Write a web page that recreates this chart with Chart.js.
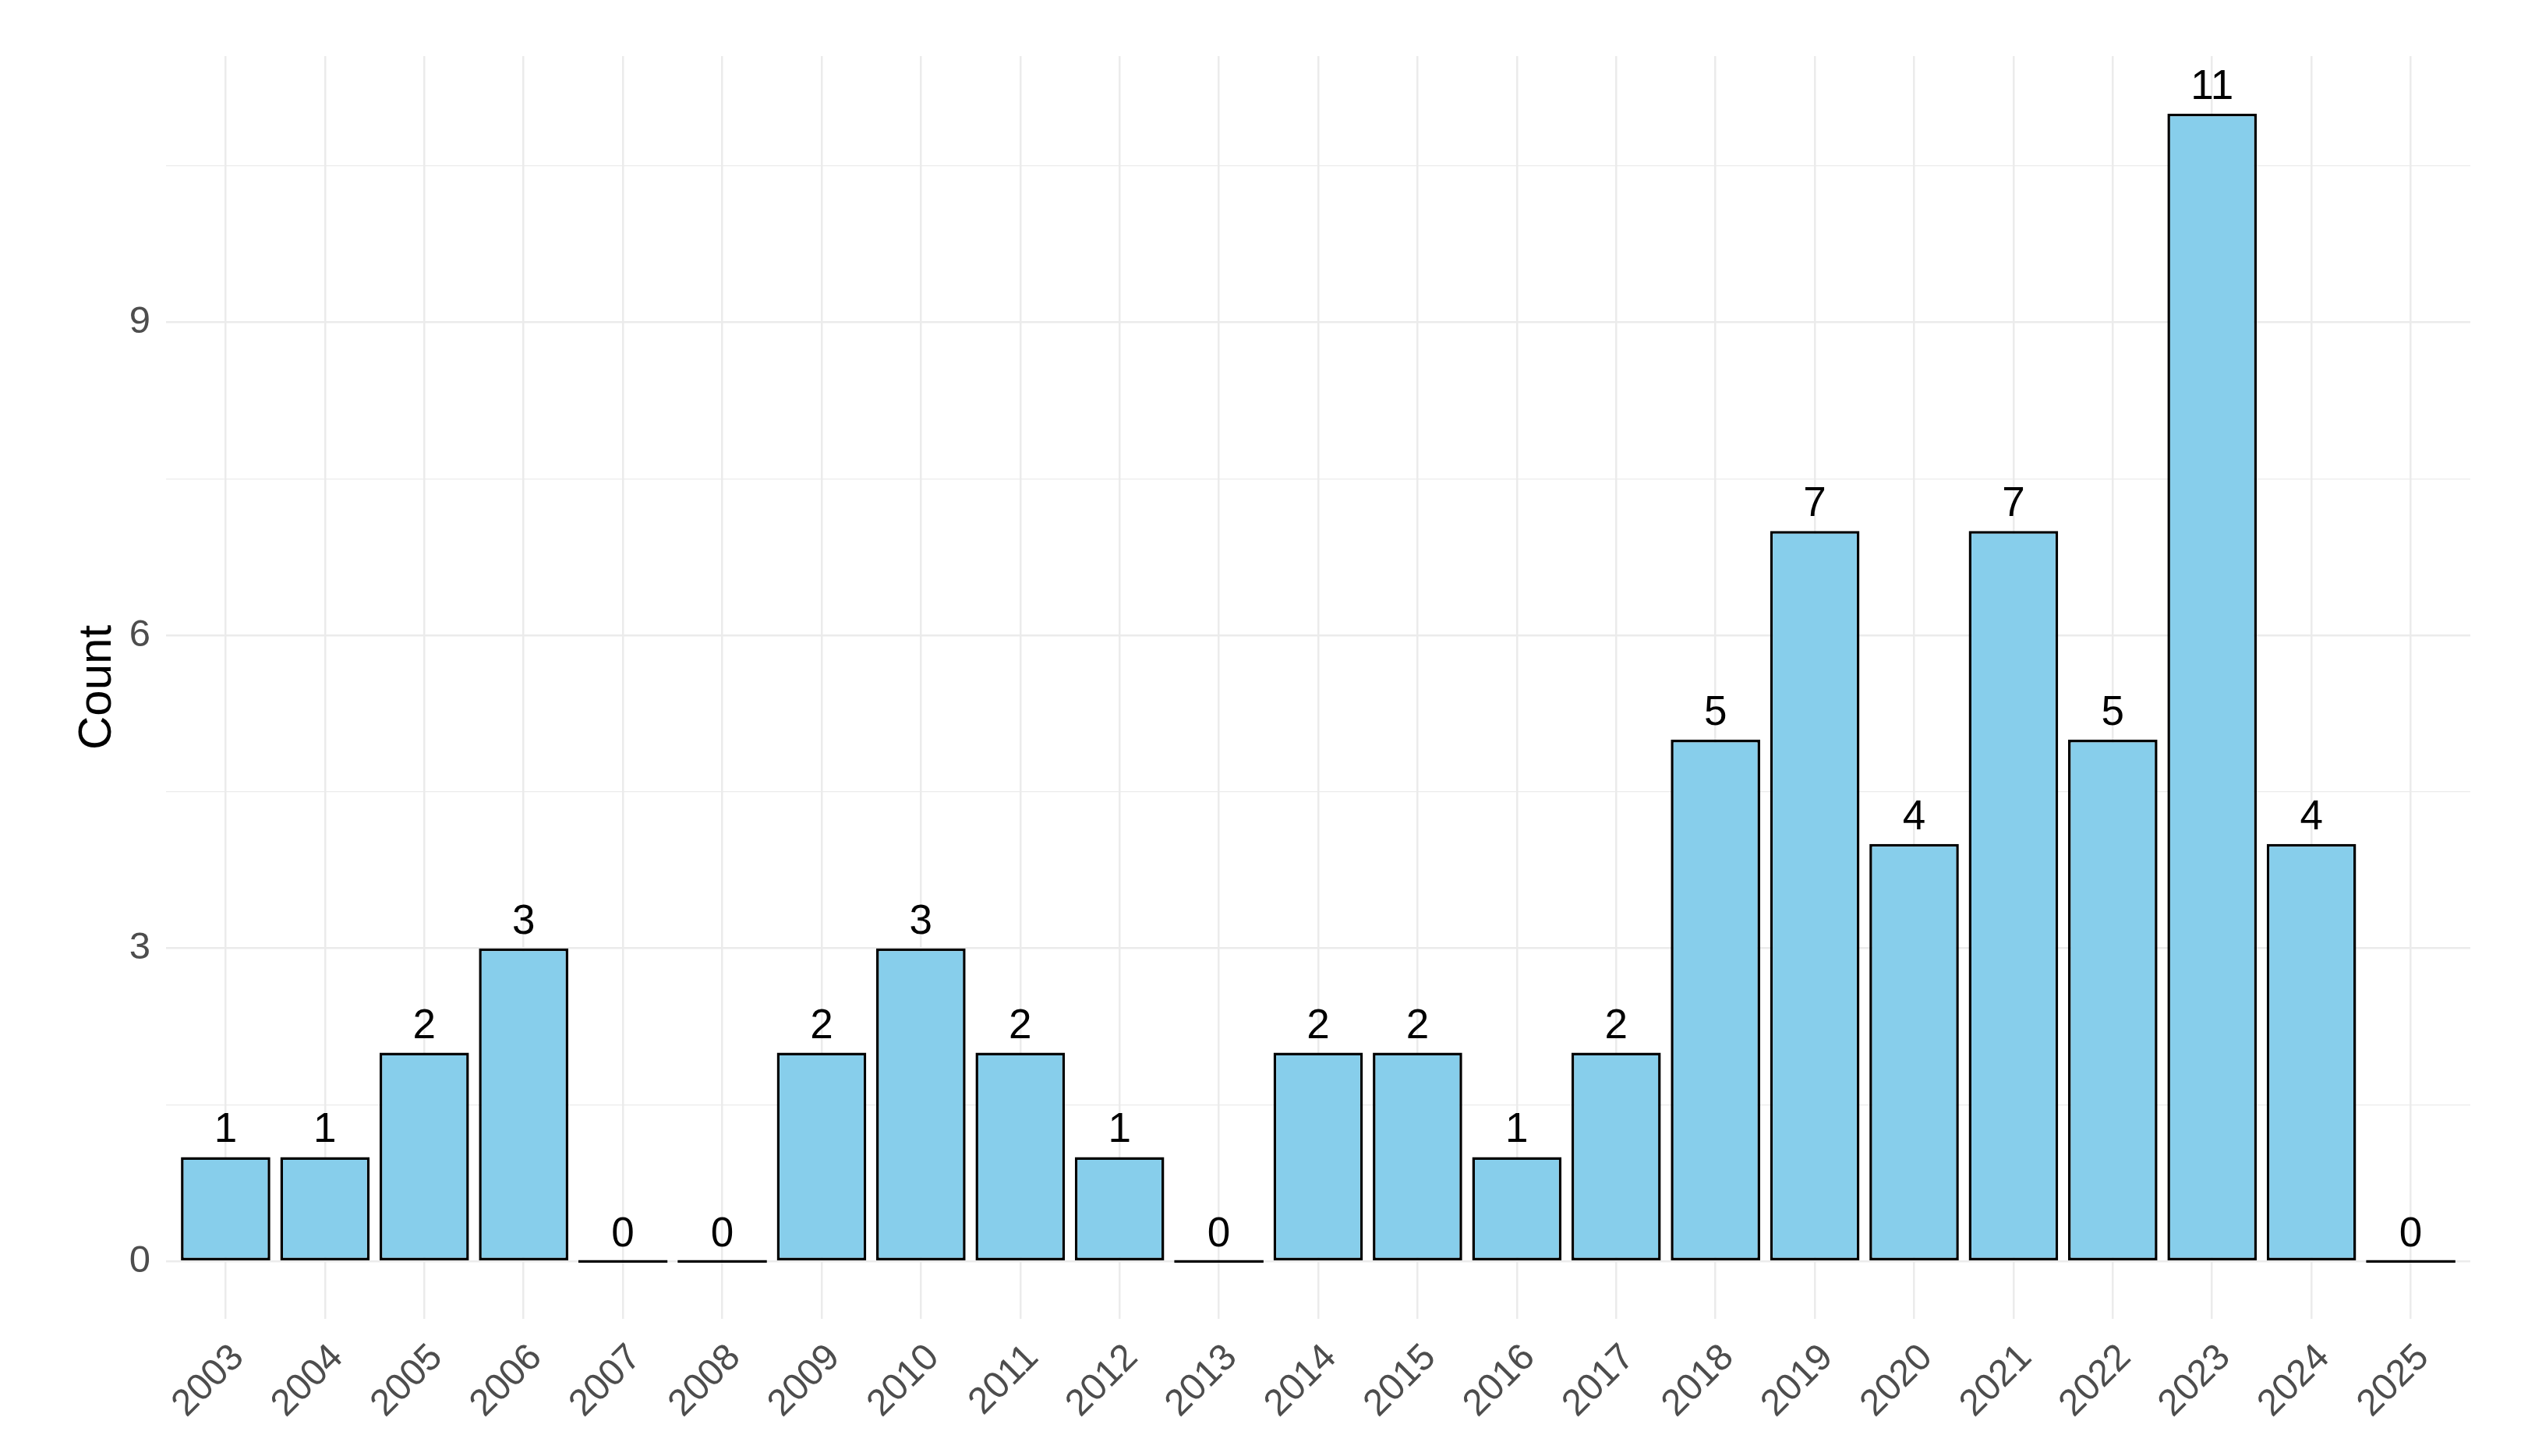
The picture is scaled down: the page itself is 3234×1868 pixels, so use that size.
<!DOCTYPE html>
<html>
<head>
<meta charset="utf-8">
<title>Count by year</title>
<script src="https://cdn.jsdelivr.net/npm/chart.js@4/dist/chart.umd.min.js"></script>
<style>
    body { margin: 0; background: #fff; }
</style>
</head>
<body>
<canvas id="bar-chart" width="3234" height="1868"></canvas>
<script>
let years = [2003, 2004, 2005, 2006, 2007, 2008, 2009, 2010, 2011, 2012, 2013, 2014,
    2015, 2016, 2017, 2018, 2019, 2020, 2021, 2022, 2023, 2024, 2025]
let counts = [1, 1, 2, 3, 0, 0, 2, 3, 2, 1, 0, 2, 2, 1, 2, 5, 7, 4, 7, 5, 11, 4, 0]
let yTicks = [0, 3, 6, 9]
let yMinorTicks = [1.5, 4.5, 7.5, 10.5]

let font = "'Liberation Sans', Arial, sans-serif"

// writes the count above every bar
const barLabels = {
    id: 'barLabels',
    afterDatasetsDraw(chart) {
        const ctx = chart.ctx
        const meta = chart.getDatasetMeta(0)
        ctx.save()
        ctx.font = "53px " + font
        ctx.fillStyle = "#000"
        ctx.textAlign = "center"
        ctx.textBaseline = "alphabetic"
        meta.data.forEach((bar, i) => {
            const zero = chart.scales.y.getPixelForValue(0)
            const top = Math.min(bar.y, zero)
            ctx.fillText(String(counts[i]), bar.x, top - 19)
        })
        ctx.restore()
    }
}

new Chart(document.getElementById("bar-chart"), {
    type: 'bar',
    data: {
        datasets: [{
            label: "Count",
            data: years.map((y, i) => ({ x: y, y: counts[i] })),
            backgroundColor: "#87CEEB",
            borderColor: "#000",
            borderWidth: 3.5,
            borderSkipped: false,
            minBarLength: 3.5,
            barPercentage: 0.9,
            categoryPercentage: 1
        }]
    },
    options: {
        responsive: false,
        devicePixelRatio: 1,
        animation: false,
        layout: { padding: { left: 0, top: 72, right: 65, bottom: 0 } },
        plugins: {
            legend: { display: false },
            tooltip: { enabled: false }
        },
        scales: {
            x: {
                type: 'linear',
                min: 2002.4,
                max: 2025.6,
                offset: false,
                afterBuildTicks: scale => { scale.ticks = years.map(v => ({ value: v })) },
                afterFit: scale => { scale.height = 176 },
                border: { display: false },
                grid: { color: "#EBEBEB", lineWidth: 2.5, drawTicks: false, offset: false },
                ticks: {
                    autoSkip: false,
                    minRotation: 45,
                    maxRotation: 45,
                    padding: 22,
                    labelOffset: 16,
                    color: "#4D4D4D",
                    font: { family: font, size: 48 },
                    callback: v => String(v)
                }
            },
            y: {
                min: -0.55,
                max: 11.55,
                afterBuildTicks: scale => {
                    scale.ticks = yTicks.concat(yMinorTicks).sort((a, b) => a - b).map(v => ({ value: v }))
                },
                afterFit: scale => { scale.width = 213 },
                border: { display: false },
                grid: {
                    color: "#EBEBEB",
                    drawTicks: false,
                    lineWidth: c => yTicks.includes(c.tick.value) ? 2.5 : 1.2
                },
                ticks: {
                    padding: 20,
                    color: "#4D4D4D",
                    font: { family: font, size: 49 },
                    callback: v => yTicks.includes(v) ? String(v) : ''
                },
                title: {
                    display: true,
                    text: "Count",
                    color: "#000",
                    font: { family: font, size: 60 },
                    padding: { top: 89, bottom: 0 }
                }
            }
        }
    },
    plugins: [barLabels]
});
</script>
</body>
</html>
